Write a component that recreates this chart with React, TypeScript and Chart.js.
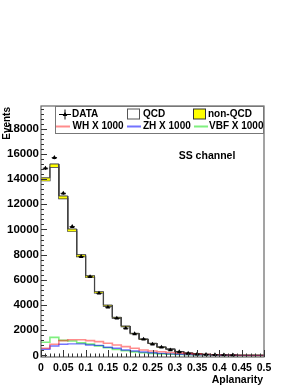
import React, { useEffect, useRef } from 'react';
import { Chart, registerables } from 'chart.js';
Chart.register(...registerables);

const binEdges = [0, 0.02, 0.04, 0.06, 0.08, 0.1, 0.12, 0.14, 0.16, 0.18, 0.2, 0.22, 0.24, 0.26, 0.28, 0.3, 0.32, 0.34, 0.36, 0.38, 0.4, 0.42, 0.44, 0.46, 0.48, 0.5];
const dataCenters = [0.01, 0.03, 0.05, 0.07, 0.09, 0.11, 0.13, 0.15, 0.17, 0.19, 0.21, 0.23, 0.25, 0.27, 0.29, 0.31, 0.33, 0.35, 0.37, 0.39, 0.41, 0.43];
const dataCounts = [14860, 15700, 12870, 10220, 7840, 6250, 4940, 3830, 2950, 2160, 1710, 1290, 890, 650, 430, 280, 170, 110, 80, 60, 40, 30];
const qcd = [13870, 14950, 12450, 9860, 7850, 6210, 4960, 3920, 2970, 2295, 1725, 1285, 950, 660, 505, 312, 195, 126, 87, 58, 39, 24, 15, 10, 5];
const nonQcd = [230, 250, 210, 180, 150, 120, 100, 80, 60, 45, 35, 25, 20, 15, 10, 8, 5, 4, 3, 2, 1, 1, 0, 0, 0];
const whX1000 = [570, 890, 1180, 1250, 1250, 1180, 1100, 970, 830, 700, 570, 440, 360, 300, 240, 190, 150, 110, 80, 60, 40, 30, 20, 10, 10];
const zhX1000 = [490, 750, 890, 920, 920, 830, 800, 650, 570, 440, 360, 280, 220, 170, 130, 100, 80, 60, 45, 30, 20, 15, 10, 5, 5];
const vbfX1000 = [1050, 1440, 1200, 1150, 1000, 900, 760, 620, 480, 380, 290, 220, 170, 130, 100, 80, 60, 45, 35, 25, 20, 15, 10, 5, 5];
const yTicks = [0, 2000, 4000, 6000, 8000, 10000, 12000, 14000, 16000, 18000];
const xTicks = [0, 0.05, 0.1, 0.15, 0.2, 0.25, 0.3, 0.35, 0.4, 0.45, 0.5];
const xTickLabels = ['0', '0.05', '0.1', '0.15', '0.2', '0.25', '0.3', '0.35', '0.4', '0.45', '0.5'];

const FONT = "'Liberation Sans', Arial, Helvetica, sans-serif";
const RED = 'rgba(255,0,0,0.45)';
const BLUE = 'rgba(0,0,255,0.55)';
const GREEN = 'rgba(0,225,0,0.5)';

function steps(vals: number[]) {
  const pts: { x: number; y: number }[] = [];
  vals.forEach((v, i) => {
    pts.push({ x: binEdges[i], y: v });
    pts.push({ x: binEdges[i + 1], y: v });
  });
  return pts;
}

const total = qcd.map((q, i) => q + nonQcd[i]);

const decorPlugin = {
  id: 'decor',
  afterDatasetsDraw(chart: any) {
    const ctx = chart.ctx;
    const ca = chart.chartArea;
    const xs = chart.scales.x;
    const ys = chart.scales.y;
    ctx.save();
    // error bars for data
    const meta = chart.getDatasetMeta(0);
    ctx.strokeStyle = '#000';
    ctx.lineWidth = 1;
    meta.data.forEach((pt: any, i: number) => {
      const n = dataCounts[i];
      const e = Math.sqrt(n);
      const y1 = ys.getPixelForValue(n + e);
      const y2 = ys.getPixelForValue(n - e);
      ctx.beginPath();
      ctx.moveTo(pt.x, y1);
      ctx.lineTo(pt.x, y2);
      ctx.moveTo(xs.getPixelForValue(dataCenters[i] - 0.006), pt.y);
      ctx.lineTo(xs.getPixelForValue(dataCenters[i] + 0.006), pt.y);
      ctx.stroke();
    });
    ctx.restore();
  },
  afterDraw(chart: any) {
    const ctx = chart.ctx;
    const ca = chart.chartArea;
    const xs = chart.scales.x;
    const ys = chart.scales.y;
    ctx.save();
    // frame
    ctx.strokeStyle = '#666';
    ctx.lineWidth = 1.2;
    ctx.strokeRect(ca.left, ca.top, ca.right - ca.left, ca.bottom - ca.top);
    // y ticks
    ctx.strokeStyle = '#333';
    ctx.lineWidth = 1;
    for (let v = 0; v <= 19600; v += 400) {
      const y = Math.round(ys.getPixelForValue(v)) + 0.5;
      const major = v % 2000 === 0;
      ctx.beginPath();
      ctx.moveTo(ca.left, y);
      ctx.lineTo(ca.left + (major ? 6 : 3), y);
      ctx.stroke();
    }
    for (let k = 0; k <= 50; k++) {
      const v = k / 100;
      const x = Math.round(xs.getPixelForValue(v)) + 0.5;
      const major = k % 5 === 0;
      ctx.beginPath();
      ctx.moveTo(x, ca.bottom);
      ctx.lineTo(x, ca.bottom - (major ? 7 : 3.5));
      ctx.stroke();
    }
    // labels
    ctx.fillStyle = '#000';
    ctx.font = `bold 11.5px ${FONT}`;
    ctx.textAlign = 'right';
    ctx.textBaseline = 'middle';
    yTicks.forEach((v) => ctx.fillText(String(v), ca.left - 2, ys.getPixelForValue(v)));
    ctx.font = `bold 10.5px ${FONT}`;
    ctx.textAlign = 'center';
    xTicks.forEach((v, i) => ctx.fillText(xTickLabels[i], xs.getPixelForValue(v), ca.bottom + 11));
    // axis titles
    ctx.textAlign = 'right';
    ctx.fillText('Aplanarity', ca.right - 1, ca.bottom + 23);
    ctx.save();
    ctx.translate(7, ca.top);
    ctx.rotate(-Math.PI / 2);
    ctx.font = `bold 10px ${FONT}`;
    ctx.textAlign = 'right';
    ctx.textBaseline = 'middle';
    ctx.fillText('Events', -1, 0);
    ctx.restore();
    // SS channel
    ctx.font = `bold 10.5px ${FONT}`;
    ctx.textAlign = 'center';
    ctx.fillText('SS channel', 207, 156);
    // legend
    const lx = 55, ly = ca.top, lw = 208, lh = 27;
    ctx.fillStyle = '#fff';
    ctx.fillRect(lx, ly, lw, lh);
    ctx.strokeStyle = '#777';
    ctx.lineWidth = 1;
    ctx.strokeRect(lx + 0.5, ly + 0.5, lw, lh);
    const r1 = ly + 8.5, r2 = ly + 20.5;
    ctx.font = `bold 10px ${FONT}`;
    ctx.textAlign = 'left';
    ctx.textBaseline = 'middle';
    ctx.fillStyle = '#000';
    // DATA marker
    ctx.strokeStyle = '#000';
    ctx.beginPath();
    ctx.moveTo(59, r1); ctx.lineTo(71, r1);
    ctx.moveTo(65, r1 - 5); ctx.lineTo(65, r1 + 5);
    ctx.stroke();
    ctx.beginPath();
    ctx.moveTo(65, r1 - 2.5); ctx.lineTo(67.3, r1 + 1.5); ctx.lineTo(62.7, r1 + 1.5); ctx.closePath();
    ctx.fill();
    ctx.fillText('DATA', 72, r1);
    // QCD box
    ctx.strokeStyle = '#555';
    ctx.strokeRect(127.5, r1 - 5.5, 12, 10);
    ctx.fillText('QCD', 143, r1);
    ctx.fillStyle = '#ffff00';
    ctx.fillRect(193.5, r1 - 5.5, 12, 10);
    ctx.strokeStyle = '#333';
    ctx.strokeRect(193.5, r1 - 5.5, 12, 10);
    ctx.fillStyle = '#000';
    ctx.fillText('non-QCD', 208, r1);
    const sample = (x0: number, col: string) => {
      ctx.strokeStyle = col;
      ctx.lineWidth = 2;
      ctx.beginPath();
      ctx.moveTo(x0, r2); ctx.lineTo(x0 + 14, r2);
      ctx.stroke();
    };
    sample(56, RED);
    ctx.fillText('WH X 1000', 72.5, r2);
    sample(127, BLUE);
    ctx.fillText('ZH X 1000', 143, r2);
    sample(194, GREEN);
    ctx.fillText('VBF X 1000', 209, r2);
    ctx.restore();
  },
};

export default function App() {
  const ref = useRef<HTMLCanvasElement>(null);
  useEffect(() => {
    if (!ref.current) return;
    const chart = new Chart(ref.current, {
      type: 'line',
      data: {
        datasets: [
          {
            label: 'DATA',
            data: dataCenters.map((x, i) => ({ x, y: dataCounts[i] })),
            showLine: false,
            pointStyle: 'triangle',
            pointRadius: 2.6,
            pointBackgroundColor: '#000',
            pointBorderColor: '#000',
            pointBorderWidth: 0,
          },
          { label: 'WH', data: steps(whX1000), borderColor: RED, borderWidth: 1.6, pointRadius: 0, fill: false },
          { label: 'ZH', data: steps(zhX1000), borderColor: BLUE, borderWidth: 1.4, pointRadius: 0, fill: false },
          { label: 'VBF', data: steps(vbfX1000), borderColor: GREEN, borderWidth: 1.6, pointRadius: 0, fill: false },
          { label: 'non-QCD', data: steps(total), borderColor: '#444', borderWidth: 1, pointRadius: 0, fill: '+1', backgroundColor: '#ffff00' },
          { label: 'QCD', data: steps(qcd), borderColor: '#333', borderWidth: 1.2, pointRadius: 0, fill: false },
        ],
      },
      options: {
        responsive: false,
        animation: false,
        devicePixelRatio: 1,
        layout: { padding: { left: 41, right: 36, top: 106, bottom: 31 } },
        scales: {
          x: { type: 'linear', min: 0, max: 0.5, display: false },
          y: { type: 'linear', min: -120, max: 19800, display: false },
        },
        plugins: { legend: { display: false }, tooltip: { enabled: false }, title: { display: false } },
        elements: { line: { tension: 0 } },
      },
      plugins: [decorPlugin],
    });
    return () => chart.destroy();
  }, []);
  return (
    <div style={{ position: 'fixed', left: 0, top: 0, width: 300, height: 388, background: '#fff' }}>
      <canvas ref={ref} width={300} height={388} />
    </div>
  );
}
